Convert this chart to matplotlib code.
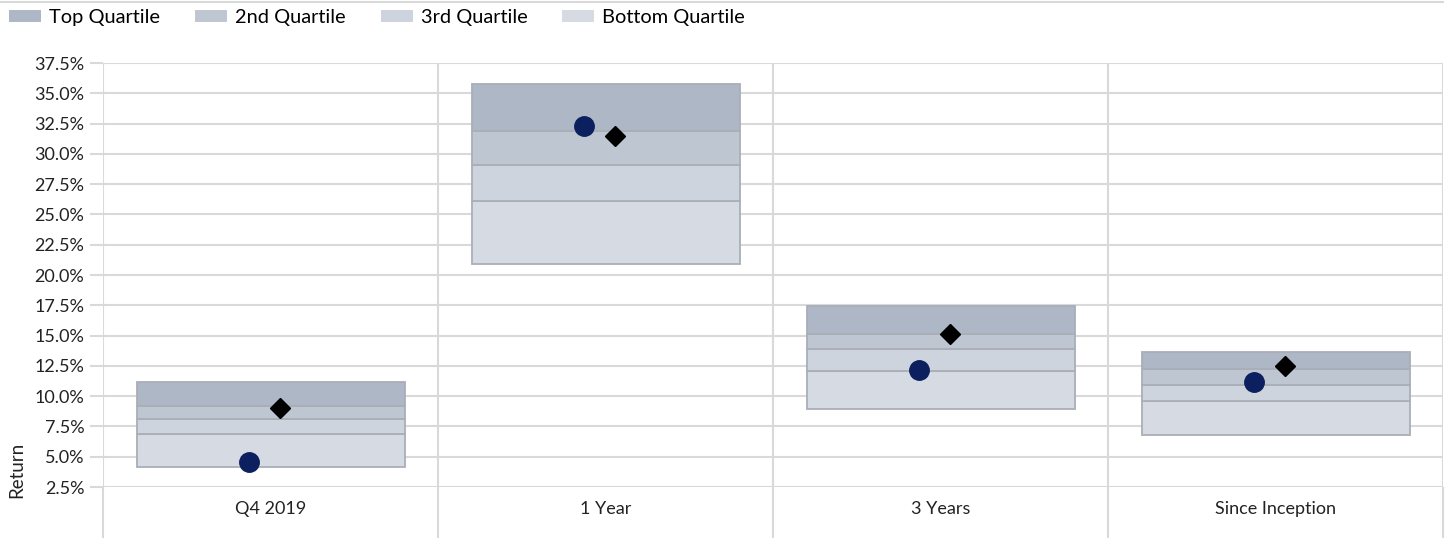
import matplotlib.pyplot as plt
from matplotlib.patches import Patch
from matplotlib.lines import Line2D
import numpy as np

# Dati (valori in %)
categorie = ['Q4 2019', '1 Year', '3 Years', 'Since Inception']
minimo = [4.15, 20.9, 8.95, 6.77]
quartile_25 = [6.91, 26.14, 12.09, 9.61]
mediana = [8.1, 29.07, 13.86, 10.88]
quartile_75 = [9.17, 31.88, 15.12, 12.2]
massimo = [11.13, 35.79, 17.43, 13.61]
portafoglio = [4.54, 32.32, 12.15, 11.15]
benchmark = [8.98, 31.49, 15.12, 12.45]
etichette_legenda = ['Top Quartile', '2nd Quartile', '3rd Quartile', 'Bottom Quartile']
colori = ['#aeb7c5', '#bec6d1', '#cdd4dd', '#d6dbe3']

plt.rcParams['font.family'] = ['Lato', 'DejaVu Sans']
griglia = '#d9d9d9'

fig = plt.figure(figsize=(14.48, 5.38), dpi=100)
ax = fig.add_axes([103 / 1448, 1 - 487 / 538, 1340 / 1448, 424 / 538])

x = np.arange(len(categorie))
fasce = [(minimo, quartile_25), (quartile_25, mediana), (mediana, quartile_75), (quartile_75, massimo)]
colori_fasce = colori[::-1]
for (basso, alto), c in zip(fasce, colori_fasce):
    basso = np.array(basso)
    alto = np.array(alto)
    ax.bar(x, alto - basso, bottom=basso, width=0.8, color=c,
           edgecolor='#a9aeb7', linewidth=1.3, zorder=3)

ax.plot(x - 0.063, portafoglio, 'o', color='#0c1f5e', markersize=14, zorder=5, linestyle='none')
ax.plot(x + 0.027, benchmark, 'D', color='black', markersize=10, zorder=5, linestyle='none')

ax.set_xlim(-0.5, 3.5)
ax.set_ylim(2.5, 37.5)
yt = np.arange(2.5, 37.6, 2.5)
ax.set_yticks(yt)
ax.set_yticklabels([f'{v:.1f}%' for v in yt], fontsize=13, color='#222222')
ax.set_xticks(x)
ax.set_xticklabels(categorie, fontsize=13, color='#222222')
ax.set_xticks(np.arange(-0.5, 3.6, 1), minor=True)

ax.tick_params(axis='y', length=9.5, width=1.5, color=griglia, pad=4)
ax.tick_params(axis='x', which='major', length=0, pad=10)
ax.tick_params(axis='x', which='minor', length=37, width=1.5, color=griglia, direction='out')
for m in ax.xaxis.get_minorticklines():
    m.set_clip_on(False)

ax.grid(axis='y', color=griglia, linewidth=1.5, zorder=0)
ax.grid(axis='x', which='minor', color=griglia, linewidth=1.5, zorder=0)
for s in ax.spines.values():
    s.set_visible(False)
ax.set_axisbelow(True)

fig.text(17 / 1448, 1 - 470 / 538, 'Return', rotation=90, ha='center', va='center',
         fontsize=13.5, color='#222222')

# Linea sottile in alto
fig.add_artist(Line2D([0, 1443 / 1448], [1 - 1.5 / 538, 1 - 1.5 / 538],
                      transform=fig.transFigure, color=griglia, linewidth=1.5))

maniglie = [Patch(facecolor=c, edgecolor='none') for c in colori]
fig.legend(maniglie, etichette_legenda, loc='upper left', bbox_to_anchor=(0.0, 1.0),
           ncol=4, frameon=False, fontsize=14.4, handlelength=1.6, handleheight=0.5,
           handletextpad=0.4, columnspacing=1.75, borderaxespad=0.15, borderpad=0.3)

fig.savefig('out.png', dpi=100)
